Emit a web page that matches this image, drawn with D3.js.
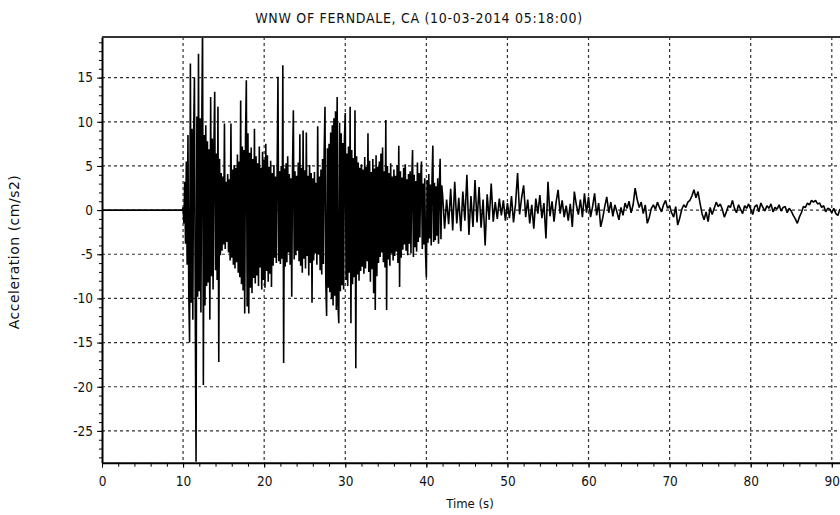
<html>
<head><meta charset="utf-8"></head>
<body style="margin:0;background:#fff">
<svg id="seis"></svg>
<script src="https://d3js.org/d3.v7.min.js"></script>
<script>

// quiet record before the P arrival
var quietTimes = [0, 9.9]
var quietValues = [0, 0]

// strong shaking, one sample every 0.1 s from 10 s (one row = 1 s)
var strongStart = 10
var strongStep = 0.1
var strongValues = [
    0.3, -1.5, 3.2, -3.8, 5.5, -6.2, 8.5, -9.6, -15.0, 16.6,
    -10.5, 9.2, -12.4, 8.6, 15.0, -11.0, -28.5, 10.6, -9.8, 17.7,
    -9.2, 10.4, -11.6, 9.0, 21.0, -19.8, 8.5, -10.8, 9.6, -8.6,
    7.8, -8.2, 6.9, -12.4, 12.8, -7.5, 8.1, -9.0, 7.2, 13.4,
    -6.8, 6.4, -7.9, 11.7, -17.2, 5.8, -5.1, 4.2, -4.6, 3.8,
    -3.9, 9.8, -4.4, 3.2, -3.6, 4.1, -4.8, 3.5, -5.7, 9.8,
    -5.4, 4.6, -6.2, 5.1, -6.6, 4.8, -5.9, 6.3, -7.1, 5.5,
    -7.6, 12.4, -8.4, 7.2, -9.1, 6.8, -11.7, 8.2, 14.7, -10.9,
    8.7, -11.7, 6.5, -8.8, 7.1, -9.4, 5.8, -7.7, 9.2, -8.3,
    6.1, -7.4, 5.3, -8.6, 7.2, -6.5, 4.8, -9.0, 6.6, -7.9,
    5.7, -8.8, 7.5, -6.9, 6.2, -8.1, 4.9, -7.2, 5.6, -8.7,
    4.2, -6.3, 5.1, -5.4, 3.8, -6.0, 4.6, 15.1, -5.8, 4.4,
    -6.1, 5.0, -5.5, 16.4, -17.3, 4.7, -6.4, 5.3, -5.9, 6.1,
    -4.8, 4.1, -6.2, 3.6, -9.8, 5.2, 11.3, -5.6, 4.4, -5.1,
    3.9, -4.6, 5.4, -5.8, 8.6, -6.3, 4.8, -7.1, 9.0, -5.5,
    4.5, -6.6, 8.8, -5.2, 3.9, -7.4, 5.1, -6.0, 4.2, -10.5,
    3.6, -5.7, 4.3, -4.9, 3.1, -6.2, 9.5, -5.0, 3.8, -6.8,
    4.6, -7.3, 5.8, -6.1, 6.7, 11.7, -8.2, -12.0, 7.0, -8.8,
    7.5, -9.3, 8.8, -10.1, 9.6, -10.8, 10.4, -9.7, 11.2, -11.3,
    12.8, -10.6, -12.8, 9.9, -9.2, 8.7, -8.5, 7.6, -9.0, 8.2,
    11.0, -7.9, 6.4, -8.6, 7.2, -7.1, 11.7, -12.8, 6.8, -8.4,
    5.9, -7.6, 11.3, -17.9, 6.1, -7.3, 5.4, -8.0, 4.8, -6.9,
    5.2, -6.4, 4.6, -7.2, 6.0, -6.6, 4.9, -5.8, 8.7, -7.0,
    5.6, -8.1, 4.3, -6.7, 5.8, -9.4, 4.7, -11.3, 6.2, -7.5,
    4.9, -6.0, 5.5, -5.3, 6.4, -4.8, 7.1, -5.9, 4.4, -6.5,
    10.2, -11.3, 5.0, -5.6, 4.2, -6.3, 5.3, -4.9, 3.8, -5.7,
    4.6, -5.2, 3.9, -4.7, 5.1, -6.0, 7.3, -8.7, 4.4, -5.4,
    3.7, -4.5, 4.8, -3.9, 5.2, -4.6, 3.5, -5.1, 4.1, -3.8,
    4.4, -4.9, 3.6, 6.8, -5.3, 4.0, -4.2, 3.3, -4.7, 5.4,
    -3.6, 4.2, -3.1, 3.8, 5.5, -4.4, 3.0, -3.9, 3.6, -4.8,
    -7.6, 3.4, -3.7, 4.1, -3.2, 2.9, -4.0, 3.5, 7.3, -3.6,
    3.1, -3.4, 2.7, -2.9, 3.6, -3.8, 2.5, 5.8, -3.3, 2.8
]

// coda, one sample every 0.25 s from 42 s (one row = 2 s)
var codaStart = 42
var codaStep = 0.25
var codaValues = [
    1.8, -2.1, 1.2, -1.6, 2.4, -2.3, 3.2, -1.5,
    1.4, -2.4, 2.1, -1.2, 4.0, -2.8, 1.6, -1.9,
    3.4, -1.4, 2.6, -2.0, 1.2, -4.0, 1.8, -1.1,
    3.0, -1.3, 0.9, -1.0, 1.3, -0.6, 1.1, -1.2,
    0.8, -0.9, 1.6, -1.4, 0.7, 4.2, -0.5, 1.4,
    2.8, -0.8, 1.2, -1.5, 0.6, -2.1, 1.3, -0.4,
    1.7, -0.9, 0.8, -3.2, 3.2, -0.7, 1.0, -1.3,
    0.9, 2.3, -0.4, 1.1, -0.8, 0.5, -1.2, 0.7,
    -1.9, 2.1, 0.6, -0.5, 1.2, -0.8, 1.9, -0.3,
    1.5, -0.8, 0.4, 1.9, -0.6, 0.8, -1.9, -0.9,
    0.4, 1.5, -0.3, 0.9, -0.7, 0.6, -0.2, -1.1,
    0.3, -0.6, 0.8, 0.2, 1.0, -0.3, 0.6, 2.5,
    1.2, 0.3, 0.9, -0.4, 0.6, -1.5, -0.8, 0.2,
    0.6, 0.1, 0.9, 0.3, -0.2, 0.6, 1.1, 0.2,
    0.5, -0.3, -0.8, 0.4, -1.7, -0.9, 0.1, 0.6,
    0.3, 0.9, 1.1, 1.6, 2.3, 1.4, 2.1, 0.8,
    -0.4, -1.1, -0.2, -1.3, 0.3, -0.5, 0.2, 0.9,
    0.4, 0.7, 0.1, -0.8, -0.2, 0.5, 0.3, 1.1,
    0.2, -0.3, 0.6, 0.1, -0.4, 0.5, 0.2, 0.7,
    0.1, -0.5, 0.4, 0.6, -0.2, 0.8, 0.3, -0.1,
    0.5, 0.2, 0.7, -0.2, 0.3, 0.1, 0.6, -0.1,
    0.3, 0.4, -0.3, 0.2, -0.1, -0.6, -1.0, -1.5,
    -0.8, -0.3, 0.4, 0.3, 0.8, 0.6, 1.1, 0.9,
    1.1, 0.7, 0.8, 0.3, 0.5, -0.2, 0.2, 0.1,
    -0.3, 0.2, -0.4, -0.6, 0.1, -0.2, 0.3, -0.1
]

var xTicks = [0, 10, 20, 30, 40, 50, 60, 70, 80, 90]
var yTicks = [-25, -20, -15, -10, -5, 0, 5, 10, 15]
var chartTitle = "WNW OF FERNDALE, CA (10-03-2014 05:18:00)"
var xLabel = "Time (s)"
var yLabel = "Acceleration (cm/s2)"

var font = "'DejaVu Sans Condensed', 'Liberation Sans Narrow', sans-serif"

var buildSeries = function()
{
    var pts = []
    quietTimes.forEach(function(t, i) { pts.push({t: t, v: quietValues[i]}) })
    strongValues.forEach(function(v, i) { pts.push({t: strongStart + i * strongStep, v: v}) })
    codaValues.forEach(function(v, i) { pts.push({t: codaStart + i * codaStep, v: v}) })
    return pts
}

var plainNumber = function(d) { return String(d) }

var drawChart = function(target)
{
    var screen = {width: 840, height: 515}
    var margins = {top: 37, left: 102}
    var graph = {width: 746, height: 425.7}

    var svg = d3.select(target)
        .attr("width", screen.width)
        .attr("height", screen.height)
        .style("font-family", font)

    var xScale = d3.scaleLinear()
        .domain([0, 92])
        .range([0, graph.width])

    var yScale = d3.scaleLinear()
        .domain([-28.6, 19.6])
        .range([graph.height, 0])

    var g = svg.append("g")
        .attr("transform", "translate(" + margins.left + "," + margins.top + ")")

    svg.append("defs").append("clipPath")
        .attr("id", "plotClip")
        .append("rect")
        .attr("width", graph.width)
        .attr("height", graph.height)

    // dashed grid
    g.append("g").selectAll("line")
        .data(xTicks.filter(function(d) { return d > 0 }))
        .enter().append("line")
        .attr("x1", function(d) { return xScale(d) })
        .attr("x2", function(d) { return xScale(d) })
        .attr("y1", 0)
        .attr("y2", graph.height)
        .attr("stroke", "#333")
        .attr("stroke-width", 1.2)
        .attr("stroke-dasharray", "3,3")

    g.append("g").selectAll("line")
        .data(yTicks)
        .enter().append("line")
        .attr("x1", 0)
        .attr("x2", graph.width)
        .attr("y1", function(d) { return yScale(d) })
        .attr("y2", function(d) { return yScale(d) })
        .attr("stroke", "#333")
        .attr("stroke-width", 1.2)
        .attr("stroke-dasharray", "3,3")

    // the trace
    var line = d3.line()
        .x(function(d) { return xScale(d.t) })
        .y(function(d) { return yScale(d.v) })

    g.append("path")
        .datum(buildSeries())
        .attr("clip-path", "url(#plotClip)")
        .attr("d", line)
        .attr("fill", "none")
        .attr("stroke", "#000")
        .attr("stroke-width", 1.6)
        .attr("stroke-linejoin", "miter")
        .attr("stroke-miterlimit", 1)

    // minor ticks
    g.append("g")
        .attr("transform", "translate(0," + graph.height + ")")
        .call(d3.axisBottom(xScale).tickValues(d3.range(0, 92, 2)).tickSize(4).tickFormat(""))
        .call(function(a) { a.select(".domain").remove() })
    g.append("g")
        .call(d3.axisLeft(yScale).tickValues(d3.range(-28, 20, 1)).tickSize(3).tickFormat(""))
        .call(function(a) { a.select(".domain").remove() })

    // main axes
    var xAxis = g.append("g")
        .attr("transform", "translate(0," + graph.height + ")")
        .call(d3.axisBottom(xScale).tickValues(xTicks).tickFormat(plainNumber)
            .tickSize(5).tickSizeOuter(0).tickPadding(9))
    var yAxis = g.append("g")
        .call(d3.axisLeft(yScale).tickValues(yTicks).tickFormat(plainNumber)
            .tickSize(5).tickSizeOuter(0).tickPadding(4))

    g.selectAll(".tick line").attr("stroke", "#000")
    ;[xAxis, yAxis].forEach(function(a) {
        a.select(".domain").attr("stroke", "#000").attr("stroke-width", 2)
        a.selectAll("text").attr("font-size", 13.5).attr("font-family", font).attr("fill", "#111")
    })

    // top frame line
    g.append("line")
        .attr("x1", 0).attr("x2", graph.width)
        .attr("y1", 0).attr("y2", 0)
        .attr("stroke", "#333")
        .attr("stroke-width", 2)

    svg.append("text")
        .attr("x", 419)
        .attr("y", 23)
        .attr("text-anchor", "middle")
        .attr("font-size", 14)
        .attr("letter-spacing", 0.7)
        .attr("fill", "#111")
        .text(chartTitle)

    svg.append("text")
        .attr("x", 470)
        .attr("y", 508)
        .attr("text-anchor", "middle")
        .attr("font-size", 13)
        .attr("fill", "#111")
        .text(xLabel)

    svg.append("text")
        .attr("transform", "translate(19,252) rotate(-90)")
        .attr("text-anchor", "middle")
        .attr("font-family", "'DejaVu Sans', sans-serif")
        .attr("font-size", 14)
        .attr("letter-spacing", 0.5)
        .attr("fill", "#111")
        .text(yLabel)
}

drawChart("#seis")

</script>
</body>
</html>
